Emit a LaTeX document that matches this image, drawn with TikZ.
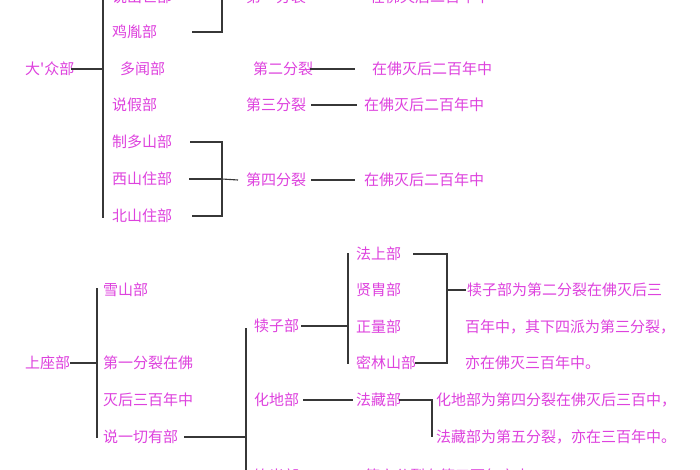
\documentclass[tikz,border=0pt]{standalone}
\usepackage{fontspec}
\usepackage{tikz}
\newfontfamily\cjk{Noto Sans CJK SC}
\definecolor{schoolpink}{RGB}{222,66,222}
\definecolor{linegray}{RGB}{55,55,55}
\tikzset{
  school/.style={anchor=west, inner sep=0pt, text=schoolpink, font=\cjk\fontsize{15}{15}\selectfont},
  link/.style={line width=1.1pt, draw=linegray}
}
\begin{document}
\begin{tikzpicture}[x=1pt, y=-1pt]
        \useasboundingbox [fill=white] (0,0) rectangle (700,470);

        % 大众部
        \node [school] (dazhong)  at (25,69)   {大'众部};
        \node [school] (shuochu)  at (112,-3)  {说出世部};
        \node [school] (jiyin)    at (112,32)  {鸡胤部};
        \node [school] (duowen)   at (120,69)  {多闻部};
        \node [school] (shuojia)  at (112,105) {说假部};
        \node [school] (zhiduo)   at (112,142) {制多山部};
        \node [school] (xishan)   at (112,179) {西山住部};
        \node [school] (beishan)  at (112,216) {北山住部};

        \node [school] (fen1)     at (246,-3)  {第一分裂};
        \node [school] (nian1)    at (370,-3)  {在佛灭后二百年中};
        \node [school] (fen2)     at (253,69)  {第二分裂};
        \node [school] (nian2)    at (372,69)  {在佛灭后二百年中};
        \node [school] (fen3)     at (246,105) {第三分裂};
        \node [school] (nian3)    at (364,105) {在佛灭后二百年中};
        \node [school] (fen4)     at (246,180) {第四分裂};
        \node [school] (nian4)    at (364,180) {在佛灭后二百年中};

        \coordinate (dzTop) at (103,-12);
        \coordinate (dzBot) at (103,218);
        \coordinate (br1)   at (222,-3);
        \coordinate (br4)   at (222,179);

        \draw [link] (dzTop) -- (dzBot);
        \draw [link] ([xshift=-4pt]dazhong.east) -- (dazhong.east -| dzTop);

        \draw [link] ([xshift=14pt]shuochu.east) -- (br1) -- (br1 |- jiyin) -- ([xshift=35pt]jiyin.east);
        \draw [link] (br1) -- ([xshift=-8pt]fen1.west);
        \draw [link] ([xshift=3pt]fen1.east) -- ([xshift=-14pt]nian1.west);
        \draw [link] ([xshift=-3pt]fen2.east) -- ([xshift=-17pt]nian2.west);
        \draw [link] ([xshift=5pt]fen3.east) -- ([xshift=-7pt]nian3.west);

        \draw [link] ([xshift=18pt]zhiduo.east) -- (zhiduo -| br4) -- (beishan -| br4) -- ([xshift=20pt]beishan.east);
        \draw [link] ([xshift=17pt]xishan.east) -- (br4);
        \draw [link] (br4) -- ([xshift=-8pt]fen4.west);
        \draw [link] ([xshift=5pt]fen4.east) -- ([xshift=-9pt]nian4.west);

        % 上座部
        \node [school] (shangzuo) at (25,363)  {上座部};
        \node [school] (xueshan)  at (103,290) {雪山部};
        \node [school] (note1a)   at (103,363) {第一分裂在佛};
        \node [school] (note1b)   at (103,400) {灭后三百年中};
        \node [school] (sarva)    at (103,437) {说一切有部};

        \node [school] (duzi)     at (254,326) {犊子部};
        \node [school] (huadi)    at (254,400) {化地部};
        \node [school] (yinguang) at (254,476) {饮光部};

        \node [school] (fashang)  at (356,254) {法上部};
        \node [school] (xianzhou) at (356,290) {贤胄部};
        \node [school] (zhengl)   at (356,327) {正量部};
        \node [school] (milin)    at (356,363) {密林山部};
        \node [school] (fazang)   at (356,400) {法藏部};

        \node [school] (duziA)    at (467,290) {犊子部为第二分裂在佛灭后三};
        \node [school] (duziB)    at (465,327) {百年中，其下四派为第三分裂，};
        \node [school] (duziC)    at (465,363) {亦在佛灭三百年中。};
        \node [school] (huadiA)   at (436,400) {化地部为第四分裂在佛灭后三百中，};
        \node [school] (huadiB)   at (436,437) {法藏部为第五分裂，亦在三百年中。};
        \node [school] (fen6)     at (365,476) {第六分裂在第三百年之末};

        \coordinate (szTop) at (97,288);
        \coordinate (szBot) at (97,438);
        \coordinate (syTop) at (246,328);
        \coordinate (syBot) at (246,485);
        \coordinate (dzTopR) at (348,253);
        \coordinate (dzBotR) at (348,364);
        \coordinate (br5)   at (447,290);
        \coordinate (br6)   at (432,400);

        \draw [link] (szTop) -- (szBot);
        \draw [link] (shangzuo.east) -- (shangzuo.east -| szTop);
        \draw [link] ([xshift=6pt]sarva.east) -- (sarva.east -| syTop);

        \draw [link] (syTop) -- (syBot);
        \draw [link] ([xshift=2pt]duzi.east) -- (duzi.east -| dzTopR);
        \draw [link] ([xshift=4pt]huadi.east) -- ([xshift=-3pt]fazang.west);
        \draw [link] ([xshift=8pt]yinguang.east) -- ([xshift=-10pt]fen6.west);

        \draw [link] (dzTopR) -- (dzBotR);
        \draw [link] ([xshift=12pt]fashang.east) -- (fashang.east -| br5) -- (milin.east -| br5) -- ([xshift=-1pt]milin.east);
        \draw [link] (br5) -- ([xshift=-1pt]duziA.west);

        \draw [link] ([xshift=-2pt]fazang.east) -- (br6) -- (br6 |- huadiB);
\end{tikzpicture}
\end{document}
